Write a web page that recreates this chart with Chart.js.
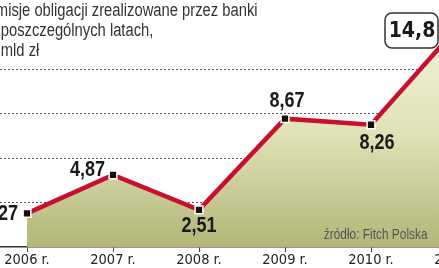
<!DOCTYPE html>
<html>
<head>
<meta charset="utf-8">
<script src="https://cdn.jsdelivr.net/npm/chart.js@4.4.1/dist/chart.umd.min.js"></script>
<style>
	html, body { margin: 0; padding: 0; background: #fff; overflow: hidden; }
	body { position: relative; width: 439px; height: 268px; }
	.wrap { position: absolute; left: -61px; top: 0; width: 600px; height: 268px; }
	.title {
		position: absolute; left: -14px; top: 0;
		font: 18px 'Liberation Sans', Arial, sans-serif;
		line-height: 20px; color: #333; white-space: nowrap;
		transform: scaleX(0.82); transform-origin: left top;
	}
	.source {
		position: absolute; right: 11px; top: 226px;
		font: 14.5px 'Liberation Sans', Arial, sans-serif;
		line-height: 16px; color: #555; white-space: nowrap;
		transform: scaleX(0.82); transform-origin: right top;
	}
</style>
</head>
<body>
<div class="wrap"><canvas id="chart"></canvas></div>
<div class="title">Emisje obligacji zrealizowane przez banki<br>w poszczególnych latach,<br>w mld zł</div>
<div class="source">źródło: Fitch Polska</div>
<script>
const years = ['2006 r.', '2007 r.', '2008 r.', '2009 r.', '2010 r.', '2011 r.'];
const issues = [2.27, 4.87, 2.51, 8.67, 8.26, 14.8];
const valueLabels = ['2,27', '4,87', '2,51', '8,67', '8,26', '14,8'];

// label placement next to each point: [dx, dy, align]
const labelPlacement = [
	[-9, 0, 'right'],
	[-8, -6, 'right'],
	[0, 15, 'center'],
	[2, -19, 'center'],
	[6, 17, 'center'],
	[-45, 2.5, 'center'],
];

const pointLabels = {
	id: 'pointLabels',
	afterDatasetsDraw(chart) {
		const { ctx } = chart;
		const meta = chart.getDatasetMeta(1);

		ctx.save();
		ctx.textBaseline = 'middle';
		ctx.fillStyle = '#1a1a1a';

		meta.data.forEach((point, i) => {
			const [dx, dy, align] = labelPlacement[i];
			const x = point.x + dx;
			const y = point.y + dy;

			if (i === years.length - 1) {
				ctx.beginPath();
				ctx.roundRect(x - 27, y - 17.5, 53, 35, 7);
				ctx.fillStyle = '#fff';
				ctx.fill();
				ctx.lineWidth = 1.5;
				ctx.strokeStyle = '#333';
				ctx.stroke();
				ctx.fillStyle = '#1a1a1a';
				ctx.font = "bold 21px 'DejaVu Sans Condensed', sans-serif";
				ctx.textAlign = align;
				ctx.fillText(valueLabels[i], x, y + 1);
				return;
			}

			// narrow bold figures: Liberation Sans squeezed horizontally
			ctx.save();
			ctx.translate(x, y + 1);
			ctx.scale(0.82, 1);
			ctx.font = "bold 22px 'Liberation Sans', Arial, sans-serif";
			ctx.textAlign = align;
			ctx.fillText(valueLabels[i], 0, 0);
			ctx.restore();
		});

		ctx.restore();
	},
};

const areaGradient = (context) => {
	const { chart } = context;
	const area = chart.chartArea;

	if (!area) {
		return '#d8dbac';
	}

	const gradient = chart.ctx.createLinearGradient(0, area.top, 0, area.bottom);
	gradient.addColorStop(0, '#f4f4de');
	gradient.addColorStop(0.5, '#dfe1b6');
	gradient.addColorStop(1, '#b2b678');
	return gradient;
};

new Chart(document.getElementById('chart'), {
	type: 'line',
	data: {
		labels: years,
		datasets: [
			{
				data: issues,
				fill: 'origin',
				backgroundColor: areaGradient,
				borderWidth: 0,
				pointRadius: 0,
				tension: 0,
				order: 2,
			},
			{
				data: issues,
				fill: false,
				borderColor: '#c8102e',
				borderWidth: 4.5,
				tension: 0,
				pointStyle: 'rect',
				pointRadius: 5.5,
				pointBackgroundColor: '#111',
				pointBorderColor: '#fff',
				pointBorderWidth: 1.5,
				clip: false,
				order: 1,
			},
		],
	},
	options: {
		responsive: true,
		maintainAspectRatio: false,
		animation: false,
		layout: {
			padding: { left: 45, right: 39, top: 25, bottom: 0 },
		},
		plugins: {
			legend: { display: false },
			tooltip: { enabled: false },
		},
		scales: {
			x: {
				offset: true,
				afterFit: (scale) => { scale.height = 21; },
				border: { display: true, color: '#333', width: 1.5 },
				grid: {
					drawOnChartArea: false,
					drawTicks: true,
					tickLength: 5,
					color: '#444',
				},
				ticks: {
					padding: 0,
					color: '#222',
					font: { family: "'DejaVu Sans Condensed', sans-serif", size: 14.5 },
				},
			},
			y: {
				min: 0,
				max: 15,
				z: 1,
				afterFit: (scale) => { scale.width = 0; },
				border: { display: false, dash: [2, 2] },
				grid: {
					drawTicks: false,
					color: (c) => (c.tick.value > 0 && c.tick.value < 15 ? '#555' : 'transparent'),
					lineWidth: 1,
				},
				ticks: { display: false, stepSize: 3 },
			},
		},
	},
	plugins: [pointLabels],
});
</script>
</body>
</html>
